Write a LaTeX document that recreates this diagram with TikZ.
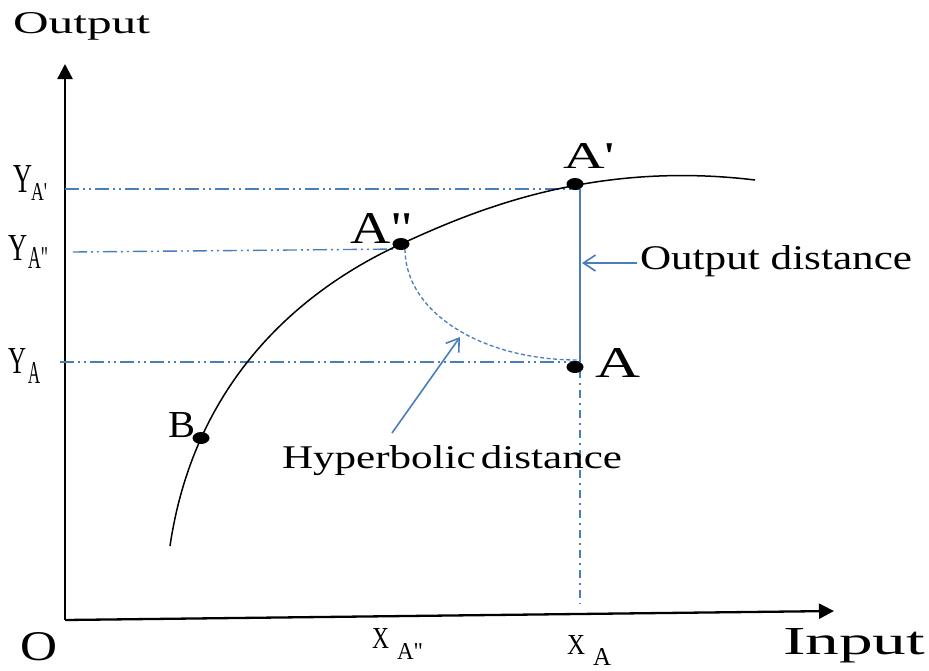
\documentclass[tikz,border=0pt]{standalone}
\usepackage{fontspec}
\setmainfont{Liberation Serif}
\usetikzlibrary{arrows.meta,shapes.geometric}
\definecolor{lblue}{RGB}{74,126,187}
\newcommand\lbl[3]{\resizebox{#1pt}{#2pt}{#3}}
\begin{document}
\begin{tikzpicture}[x=1pt,y=-1pt,
  lab/.style={anchor=base west,inner sep=0pt,outer sep=0pt},
  axisline/.style={line width=2.3pt,-{Triangle[length=15pt,width=15pt]}},
  curveline/.style={line width=1.5pt,black},
  dotn/.style={ellipse,fill=black,minimum width=17pt,minimum height=12pt,inner sep=0pt,outer sep=0pt},
  guide/.style={lblue,line width=1.4pt,dash pattern=on 14pt off 4pt on 2pt off 4pt on 2pt off 4pt},
  vguide/.style={lblue,line width=1.4pt,dash pattern=on 8pt off 5pt on 2pt off 5pt},
  solidblue/.style={lblue,line width=1.6pt},
  dashblue/.style={lblue,line width=1.3pt,dash pattern=on 4pt off 2.5pt},
  barb/.style={lblue,line width=1.6pt,-{Straight Barb[length=12pt,width=16pt]}}
]
\useasboundingbox (0,0) rectangle (929,670);

% axes
\coordinate (O) at (65,620);
\coordinate (ytip) at (65,64);
\coordinate (xtip) at (834,611);
\draw[axisline] (O) -- (ytip);
\draw[axisline] (O) -- (xtip);

% guide coordinates
\coordinate (vt) at (580,189);
\coordinate (vb) at (580,362);
\coordinate (vlow) at (580,370);
\coordinate (vend) at (580,604);
\coordinate (g1) at (65,189);
\coordinate (g2) at (73,252);
\coordinate (g2e) at (401,249);
\coordinate (g3) at (60,362);
\coordinate (hs) at (405,249);
\coordinate (he) at (578,360);

% blue guides
\draw[guide] (g1) -- (vt);
\draw[guide] (g2) -- (g2e);
\draw[guide] (g3) -- (vb);
\draw[vguide] (vlow) -- (vend);
\draw[solidblue] (vt) -- (vb);
\draw[dashblue] (hs) .. controls (405,312) and (481,360) .. (he);

% frontier curve
\coordinate (c0) at (170,546);
\coordinate (c1) at (401,244);
\coordinate (c2) at (755,180);
\draw[curveline] (c0) .. controls (193,390) and (290,295) .. (c1)
                      .. controls (471,212) and (590,160) .. (c2);

% points
\node[dotn] (pB) at (201,438) {};
\node[dotn] (pA2) at (401,244) {};
\node[dotn] (pA1) at (575,184) {};
\node[dotn] (pA) at (575,367) {};

% arrows
\coordinate (odS) at (637,263);
\coordinate (odT) at (582,263);
\draw[barb] (odS) -- (odT);
\coordinate (hdS) at (392,433);
\coordinate (hdT) at (460,337);
\draw[barb] (hdS) -- (hdT);

% labels
\node[lab] (tOut) at (13,33) {\lbl{137}{21}{Output}};
\node[lab] (tA1) at (563,168) {\lbl{52}{25}{A\textquotesingle}};
\node[lab] (tA2) at (350,243) {\lbl{63}{30}{A\textquotedbl}};
\node[lab] (tA) at (595,377) {\lbl{45}{29}{A}};
\node[lab] (tB) at (168,437) {\lbl{27}{25}{B}};
\node[lab] (tOD) at (640,269) {\lbl{272}{24}{Output distance}};
\node[lab] (tHD) at (282,468) {\lbl{340}{23}{Hyperbolic\hspace{0.12em}distance}};
\node[lab] (tO) at (20,660) {\lbl{37}{28}{O}};
\node[lab] (tIn) at (783,654) {\lbl{142}{26}{Input}};

\node[lab] (tY1) at (13,192) {\lbl{19}{27}{Y}};
\node[lab] (tY1s) at (31,200) {\lbl{16}{17}{A\textquotesingle}};
\node[lab] (tY2) at (9,260) {\lbl{19}{25}{Y}};
\node[lab] (tY2s) at (28,268) {\lbl{20}{21}{A\textquotedbl}};
\node[lab] (tY3) at (9,373) {\lbl{18}{25}{Y}};
\node[lab] (tY3s) at (28,383) {\lbl{12}{21}{A}};

\node[lab] (tX2) at (372,648) {\lbl{17}{20}{X}};
\node[lab] (tX2s) at (397,659) {\lbl{26}{16}{A\textquotedbl}};
\node[lab] (tX1) at (567,654) {\lbl{18}{19}{X}};
\node[lab] (tX1s) at (593,665) {\lbl{18}{17}{A}};
\end{tikzpicture}
\end{document}
